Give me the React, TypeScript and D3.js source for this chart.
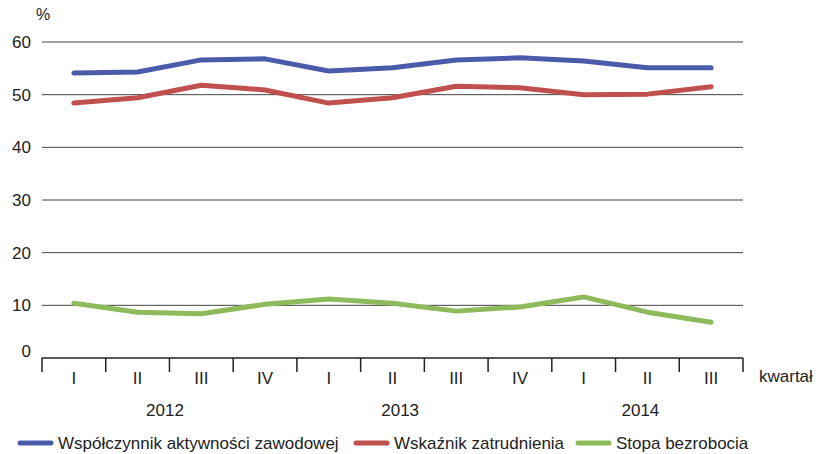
import React from "react";
import * as d3 from "d3";

const quarters = ["I", "II", "III", "IV", "I", "II", "III", "IV", "I", "II", "III"];
const years = ["2012", "2013", "2014"];
// where each year label sits, in quarter-index units
const yearPos = [1.43, 5.12, 8.89];
const yTicks = [0, 10, 20, 30, 40, 50, 60];

const aktywnosc = [54.1, 54.3, 56.6, 56.8, 54.5, 55.1, 56.6, 57.0, 56.4, 55.1, 55.1];
const zatrudnienie = [48.4, 49.4, 51.8, 50.9, 48.4, 49.4, 51.6, 51.3, 50.0, 50.1, 51.5];
const bezrobocie = [10.4, 8.7, 8.4, 10.2, 11.2, 10.4, 8.9, 9.7, 11.6, 8.7, 6.8];

const series = [
  { name: "Współczynnik aktywności zawodowej", values: aktywnosc, color: "#4a5ca9" },
  { name: "Wskaźnik zatrudnienia", values: zatrudnienie, color: "#c0504d" },
  { name: "Stopa bezrobocia", values: bezrobocie, color: "#8dbb5c" },
];

const W = 816;
const H = 454;
const m = { l: 42, r: 73, t: 42, b: 96 };
const font = "'Liberation Sans', Arial, sans-serif";

export default function App() {
  const x = d3.scaleBand<number>()
    .domain(d3.range(quarters.length))
    .range([m.l, W - m.r]);
  const y = d3.scaleLinear().domain([0, 60]).range([H - m.b, m.t]);
  const bw = x.bandwidth();
  const line = d3.line<number>()
    .x((_, i) => (x(i) as number) + bw / 2)
    .y((d) => y(d));
  const axisY = y(0);
  const legendX = [18, 354, 576];

  return (
    <svg width={W} height={H} style={{ position: "absolute", left: 0, top: 0 }} fontFamily={font}>
      {yTicks.filter((t) => t > 0).map((t) => (
        <line key={t} x1={m.l} x2={W - m.r} y1={y(t)} y2={y(t)} stroke="#444" strokeWidth={1} />
      ))}
      {yTicks.map((t) => (
        <text key={t} x={31} y={t === 0 ? y(t) - 7 : y(t)} dy="0.35em" textAnchor="end" fontSize={17} fill="#222">
          {t}
        </text>
      ))}
      <text x={36} y={20} fontSize={16} fill="#222">%</text>

      <line x1={m.l} x2={W - m.r} y1={axisY} y2={axisY} stroke="#222" strokeWidth={1.5} />
      {d3.range(quarters.length + 1).map((i) => {
        const xx = i < quarters.length ? (x(i) as number) : W - m.r;
        return <line key={i} x1={xx} x2={xx} y1={axisY} y2={axisY + 14} stroke="#222" strokeWidth={1.5} />;
      })}
      {quarters.map((q, i) => (
        <text key={i} x={(x(i) as number) + bw / 2} y={axisY + 20} dy="0.35em" textAnchor="middle" fontSize={17} fill="#222">
          {q}
        </text>
      ))}
      {years.map((yr, i) => (
        <text key={yr} x={m.l + bw * (yearPos[i] + 0.5)} y={axisY + 52} dy="0.35em" textAnchor="middle" fontSize={17} fill="#222">
          {yr}
        </text>
      ))}
      <text x={759} y={axisY + 18} dy="0.35em" fontSize={17} fill="#222">kwartał</text>

      {series.map((s) => (
        <path key={s.name} d={line(s.values) || ""} fill="none" stroke={s.color} strokeWidth={5} strokeLinejoin="round" strokeLinecap="round" />
      ))}

      {series.map((s, i) => (
        <g key={s.name} transform={`translate(${legendX[i]},${443})`}>
          <line x1={2} x2={33} y1={0} y2={0} stroke={s.color} strokeWidth={5} strokeLinecap="round" />
          <text x={40} y={0} dy="0.35em" fontSize={17} fill="#222">{s.name}</text>
        </g>
      ))}
    </svg>
  );
}
